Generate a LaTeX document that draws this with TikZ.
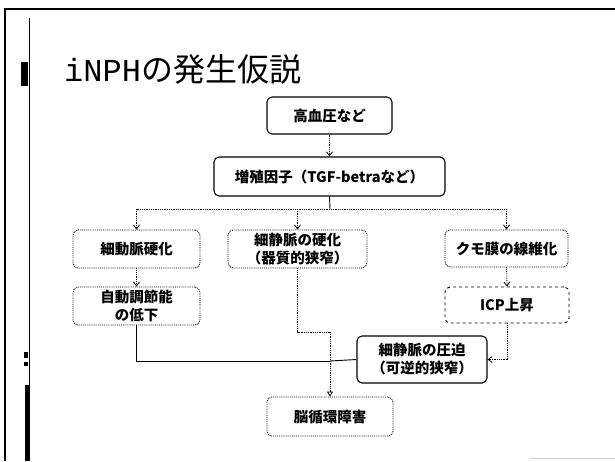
\documentclass[tikz,border=0pt]{standalone}
\usepackage{fontspec}
\setmainfont{Liberation Sans}
\newfontfamily\jp{Noto Sans CJK JP}
\newfontfamily\monott{Liberation Mono}
\usetikzlibrary{arrows.meta}
\tikzset{
  box/.style={draw, line width=1.1pt, rounded corners=5pt, inner sep=0pt, align=center,
    font=\jp\bfseries\fontsize{14.5}{18}\selectfont},
  dbox/.style={box, line width=0.9pt, densely dotted},
  conn/.style={line width=0.8pt, densely dotted},
  sconn/.style={line width=0.9pt},
  arr/.style={-{Straight Barb[length=4pt,width=6pt]}},
  tarr/.style={-{Triangle[open,length=5pt,width=6pt]}},
}
\begin{document}
\begin{tikzpicture}[x=1pt,y=-1pt]
\useasboundingbox (0,0) rectangle (615,461);
% frame
\draw[line width=1.4pt] (5,461) -- (5,9) -- (615,9);
\draw[line width=1pt] (29,18) -- (29,461);
\fill (21,62) rectangle (28,86);
\fill (25,385) rectangle (30,461);
\fill (24,352) rectangle (28,358);
\fill (24,362) rectangle (28,366);
\draw[gray!40, line width=1pt] (530,458) -- (615,458);
% title
\node[anchor=west, inner sep=0pt] (title) at (64,69)
  {{\monott\fontsize{32}{32}\selectfont iNPH}{\jp\fontsize{32}{32}\selectfont の発生仮説}};
% boxes
\node[box, minimum width=125pt, minimum height=37pt] (hbp) at (329.5,115.5) {高血圧など};
\node[box, minimum width=231pt, minimum height=39pt] (gf) at (329.5,176.5) {増殖因子（TGF-betraなど）};
\node[dbox, minimum width=127pt, minimum height=38pt] (art) at (136.5,249) {細動脈硬化};
\node[dbox, minimum width=139pt, minimum height=38pt] (ven) at (297.5,249) {細静脈の硬化\\（器質的狭窄）};
\node[dbox, minimum width=123pt, minimum height=37pt] (arach) at (506.5,248.5) {クモ膜の線維化};
\node[dbox, minimum width=127pt, minimum height=38pt] (auto) at (136.5,306) {自動調節能\\の低下};
\node[box, line width=0.9pt, dashed, minimum width=124pt, minimum height=36pt] (icp) at (507,305) {ICP上昇};
\node[box, minimum width=130pt, minimum height=47pt] (comp) at (422,359.5) {細静脈の圧迫\\（可逆的狭窄）};
\node[dbox, minimum width=126pt, minimum height=39pt] (circ) at (330,416.5) {脳循環障害};
% junction coordinates
\coordinate (j0) at (330,209);
\coordinate (jl) at (136.5,209);
\coordinate (jm) at (297.5,209);
\coordinate (jr) at (506.5,209);
\coordinate (v1) at (297.5,332);
\coordinate (v2) at (330,332);
\coordinate (a1) at (136.5,361);
\coordinate (a2) at (330,361);
\coordinate (i1) at (507,359.5);
% connectors
\draw[conn, arr] (hbp.south) -- (gf.north);
\draw[sconn] (gf.south) -- (j0);
\draw[conn] (jl) -- (jr);
\draw[conn, arr] (jl) -- (art.north);
\draw[conn, arr] (jm) -- (ven.north);
\draw[conn, arr] (jr) -- (arach.north);
\draw[conn, arr] (art.south) -- (auto.north);
\draw[conn, arr] (arach.south) -- (icp.north);
\draw[conn, arr] (icp.south) -- (i1) -- (comp.east);
\draw[sconn] (auto.south) -- (a1) -- (a2);
\draw[sconn] (comp.west) -- (a2);
\draw[conn] (ven.south) -- (v1) -- (v2);
\draw[conn, tarr] (v2) -- (circ.north);
\end{tikzpicture}
\end{document}
